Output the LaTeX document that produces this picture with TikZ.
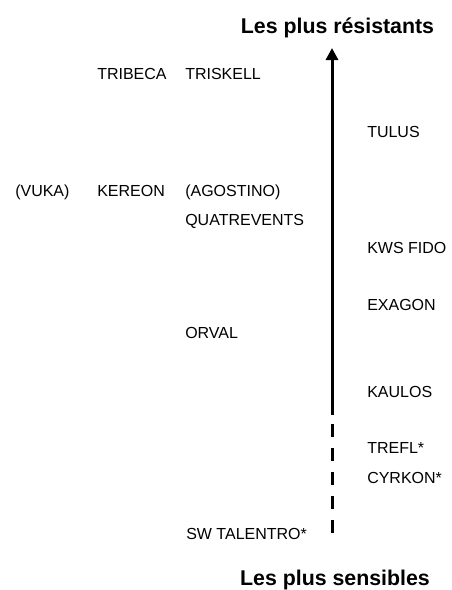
\documentclass[tikz,border=0pt]{standalone}
\usepackage{fontspec}
\setmainfont{Liberation Sans}
\usetikzlibrary{arrows.meta}
\begin{document}
\begin{tikzpicture}[x=0.75pt,y=-0.75pt,
  variety/.style={anchor=base west,inner sep=0pt,font=\fontsize{12pt}{14pt}\selectfont},
  titlelbl/.style={anchor=base,inner sep=0pt,font=\fontsize{16pt}{18pt}\selectfont\bfseries},
  axisline/.style={line width=2.25pt},
  axisdash/.style={line width=2.25pt,dash pattern=on 9.75pt off 8.25pt}]
\useasboundingbox (0,0) rectangle (452,590);
% titles
\node[titlelbl] (top) at (337.5,33) {Les plus résistants};
\node[titlelbl] (bot) at (335,585) {Les plus sensibles};
% axis
\coordinate (tip) at (332,48);
\coordinate (solidend) at (332,415);
\coordinate (dashstart) at (332,424);
\coordinate (dashend) at (332,533);
\draw[axisline,-{Triangle[length=9pt,width=9pt]}] (solidend) -- (tip);
\draw[axisdash] (dashstart) -- (dashend);
% varieties
\node[variety] (tribeca) at (97,79) {TRIBECA};
\node[variety] (triskell) at (185,79) {TRISKELL};
\node[variety] (tulus) at (367,137) {TULUS};
\node[variety] (vuka) at (15,196) {(VUKA)};
\node[variety] (kereon) at (97,196) {KEREON};
\node[variety] (agostino) at (185,196) {(AGOSTINO)};
\node[variety] (quatrevents) at (185,225) {QUATREVENTS};
\node[variety] (kwsfido) at (367,253) {KWS FIDO};
\node[variety] (exagon) at (367,310) {EXAGON};
\node[variety] (orval) at (185,338) {ORVAL};
\node[variety] (kaulos) at (367,397) {KAULOS};
\node[variety] (trefl) at (367,453) {TREFL*};
\node[variety] (cyrkon) at (367,483) {CYRKON*};
\node[variety] (talentro) at (186,539) {SW TALENTRO*};
\end{tikzpicture}
\end{document}
